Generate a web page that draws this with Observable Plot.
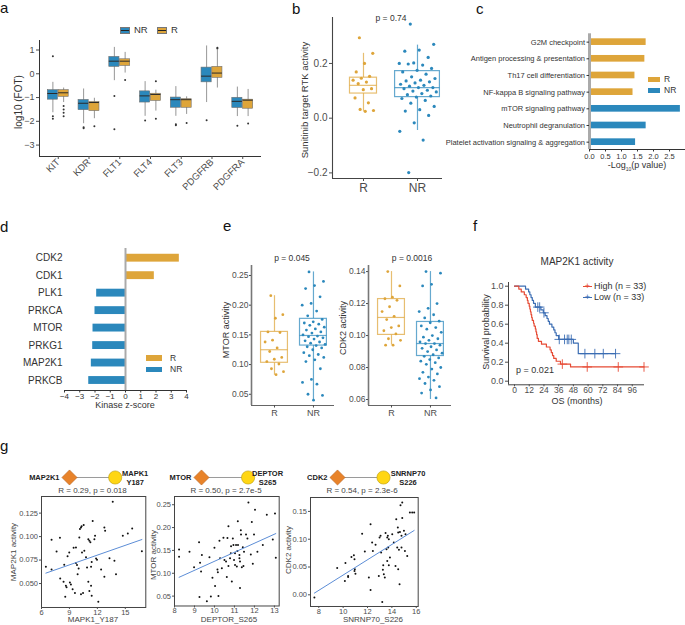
<!DOCTYPE html>
<html><head><meta charset="utf-8">
<script src="https://cdn.jsdelivr.net/npm/d3@7"></script>
<script src="https://cdn.jsdelivr.net/npm/@observablehq/plot@0.6"></script>
<style>
body{margin:0;background:#fff;}
#page{position:relative;width:685px;height:625px;overflow:hidden;background:#fff;font-family:"Liberation Sans",Arial,sans-serif;}
</style></head><body><div id="page"></div>
<script>
// ---------------- DATA ----------------
// panel a: [lo whisker, q1, median, q3, hi whisker] of log10(FOT)
const aGenes = ["KIT","KDR","FLT1","FLT4","FLT3","PDGFRB","PDGFRA"];
const aNRstats = [[-1.64,-1.09,-0.83,-0.69,-0.36],[-2.1,-1.53,-1.24,-1.1,-0.64],[-0.29,0.29,0.53,0.71,1.11],[-1.79,-1.21,-0.93,-0.74,-0.33],[-1.79,-1.43,-1.09,-1.0,-0.54],[-1.21,-0.36,-0.1,0.26,1.17],[-1.8,-1.44,-1.16,-1.01,-0.56]];
const aRstats = [[-1.21,-0.97,-0.8,-0.69,-0.6],[-1.89,-1.57,-1.21,-1.19,-1.03],[0.03,0.33,0.53,0.61,0.9],[-1.57,-1.14,-0.87,-0.84,-0.69],[-1.71,-1.43,-1.09,-1.07,-0.97],[-0.6,-0.17,0.03,0.29,1.0],[-1.8,-1.47,-1.11,-1.09,-0.66]];
const aNRout = [[0,-1.89],[0,-1.79],[0,0.74],[1,-2.29],[1,-2.25],[2,-0.93],[2,-2.33],[3,-1.97],[4,-2.17],[4,-2.12],[5,-1.96],[6,-2.19]];
const aRout = [[0,-1.36],[0,-1.5],[0,-1.64],[0,-1.79],[1,-2.21],[2,-0.26],[3,-0.31],[3,-1.89],[4,-2.07],[5,1.1],[5,1.06],[6,-2.09]];
// panel b: Sunitinib target RTK activity
const bGroups = ["R","NR"];
const bRstats = [0.025,0.09,0.12,0.148,0.237];
const bNRstats = [-0.045,0.077,0.112,0.172,0.267];
const bR = [0.294,0.237,0.2,0.169,0.153,0.146,0.139,0.132,0.126,0.108,0.104,0.074,0.056,0.032,0.028,0.025];
const bNR = [0.344,0.27,0.249,0.245,0.222,0.202,0.2,0.194,0.198,0.182,0.175,0.169,0.161,0.151,0.145,0.139,0.136,0.133,0.129,0.124,0.12,0.117,0.112,0.112,0.108,0.102,0.099,0.096,0.09,0.086,0.081,0.077,0.072,0.065,0.055,0.043,0.031,0.026,0.01,-0.017,-0.048,-0.08,-0.199];
// panel c: pathways
const cPath = ["G2M checkpoint","Antigen processing & presentation","Th17 cell differentiation","NF-kappa B signaling pathway","mTOR signaling pathway","Neutrophil degranulation","Platelet activation signaling & aggregation"];
const cVal = [1.77,1.73,1.42,1.36,2.84,1.77,1.44];
const cGrp = ["R","R","R","R","NR","NR","NR"];
// panel d: kinase z-scores
const dKin = ["CDK2","CDK1","PLK1","PRKCA","MTOR","PRKG1","MAP2K1","PRKCB"];
const dZ = [3.53,1.89,-1.89,-2.0,-2.13,-2.15,-2.24,-2.41];
// panel e: MTOR and CDK2 activity
const eMRstats = [0.082,0.103,0.125,0.155,0.216];
const eMNRstats = [0.04,0.132,0.149,0.177,0.256];
const eMR = [0.216,0.184,0.178,0.155,0.154,0.141,0.138,0.128,0.122,0.112,0.109,0.105,0.101,0.093,0.088,0.083];
const eMNR = [0.256,0.24,0.233,0.228,0.214,0.203,0.2,0.19,0.182,0.176,0.172,0.17,0.168,0.166,0.163,0.16,0.158,0.155,0.153,0.15,0.148,0.147,0.145,0.143,0.14,0.138,0.136,0.134,0.132,0.13,0.128,0.125,0.12,0.117,0.115,0.112,0.108,0.105,0.093,0.075,0.07,0.067,0.05,0.048,0.04];
const eCRstats = [0.094,0.1004,0.1113,0.1228,0.14];
const eCNRstats = [0.06,0.0872,0.095,0.1085,0.14];
const eCR = [0.14,0.131,0.124,0.123,0.122,0.118,0.115,0.112,0.11,0.106,0.105,0.103,0.101,0.098,0.097,0.094,0.094];
const eCNR = [0.14,0.139,0.132,0.131,0.12,0.117,0.115,0.113,0.111,0.109,0.108,0.106,0.105,0.104,0.102,0.1,0.099,0.098,0.097,0.096,0.095,0.095,0.094,0.093,0.092,0.091,0.09,0.089,0.088,0.087,0.086,0.085,0.084,0.083,0.082,0.08,0.079,0.077,0.076,0.074,0.073,0.072,0.07,0.068,0.066,0.064,0.061];
// panel f: Kaplan-Meier, MAP2K1 activity
const fHighT = [0,3.5,5.5,8,9.5,10.5,11,12,12.5,13,13.5,14,14.5,15.5,16,17,17.5,18,18.5,19.5,22,26,29,30,31,32,34,37.5,45.7,105.6];
const fHighS = [1,0.97,0.94,0.91,0.88,0.85,0.82,0.79,0.76,0.73,0.70,0.67,0.64,0.61,0.58,0.55,0.52,0.49,0.45,0.42,0.39,0.36,0.33,0.30,0.27,0.24,0.21,0.18,0.15,0.15];
const fHighCens = [[39,0.18],[59.3,0.15],[84.6,0.15],[105.6,0.15]];
const fLowT = [0,9,11.5,12.5,13.5,14.5,15.5,17,21.5,23.5,25,26.5,27.5,28.5,30.5,32,33,34,36,48,52,82.4];
const fLowS = [1,0.97,0.94,0.91,0.88,0.85,0.82,0.78,0.75,0.72,0.69,0.66,0.63,0.60,0.57,0.54,0.51,0.48,0.44,0.40,0.29,0.29];
const fLowCens = [[19,0.78],[20.5,0.78],[24,0.72],[36.5,0.44],[40.8,0.44],[43,0.44],[44.3,0.44],[46.3,0.44],[57.4,0.29],[65.5,0.29],[72.4,0.29],[82.4,0.29]];
// panel g: kinase activity vs substrate phosphosite
const g1Pts = [[6.47,0.068],[7.08,0.065],[7.08,0.0966],[7.62,0.084],[7.98,0.0988],[8.01,0.0555],[8.37,0.052],[8.44,0.07],[8.62,0.0477],[8.69,0.046],[8.55,0.036],[8.8,0.079],[8.98,0.083],[9.05,0.051],[9.16,0.049],[9.34,0.044],[9.45,0.088],[9.7,0.0885],[9.7,0.072],[9.81,0.0697],[9.59,0.04],[9.88,0.06],[9.99,0.066],[10.06,0.099],[10.13,0.108],[10.24,0.1098],[10.31,0.111],[10.53,0.1123],[10.35,0.083],[10.24,0.0385],[10.46,0.04],[10.6,0.085],[10.78,0.078],[10.89,0.067],[11.03,0.0973],[11.14,0.0956],[11.03,0.052],[11.25,0.094],[11.14,0.042],[11.32,0.0477],[11.39,0.037],[11.32,0.068],[11.39,0.073],[11.5,0.1165],[11.68,0.0973],[11.75,0.101],[11.86,0.0768],[11.96,0.0754],[12.1,0.0307],[12.4,0.065],[12.75,0.0573],[12.75,0.1098],[12.83,0.1062],[13.3,0.077],[13.65,0.137],[13.83,0.0743],[14.0,0.0598],[14.73,0.101],[15.27,0.1034],[15.74,0.1087],[16.78,0.0843]];
const g2Pts = [[8.23,0.152],[8.23,0.136],[8.75,0.147],[8.98,0.113],[9.23,0.168],[9.28,0.123],[9.37,0.14],[9.33,0.104],[9.25,0.048],[9.62,0.039],[9.75,0.135],[9.82,0.049],[9.9,0.09],[10.0,0.156],[10.03,0.072],[10.15,0.108],[10.17,0.102],[10.2,0.05],[10.25,0.171],[10.28,0.133],[10.37,0.111],[10.45,0.178],[10.5,0.129],[10.58,0.126],[10.62,0.092],[10.65,0.177],[10.7,0.203],[10.7,0.116],[10.78,0.133],[10.82,0.144],[10.83,0.159],[10.87,0.082],[10.92,0.176],[10.95,0.162],[10.98,0.129],[11.03,0.144],[11.03,0.118],[11.08,0.162],[11.12,0.115],[11.15,0.149],[11.17,0.214],[11.18,0.162],[11.25,0.14],[11.25,0.133],[11.28,0.126],[11.28,0.068],[11.32,0.194],[11.33,0.185],[11.37,0.113],[11.42,0.157],[11.45,0.116],[11.48,0.147],[11.58,0.185],[11.65,0.176],[11.7,0.255],[11.82,0.141],[11.87,0.212],[11.92,0.121],[11.98,0.185],[12.03,0.239],[12.15,0.147],[12.42,0.162],[12.62,0.228],[12.92,0.174],[13.03,0.231],[13.07,0.134]];
const g3Pts = [[7.64,-0.005],[9.51,0.048],[10.19,0.057],[10.41,0.034],[10.68,0.068],[10.88,0.071],[10.93,0.064],[10.96,0.046],[10.93,0.043],[11.01,0.038],[10.14,0.025],[10.41,0.032],[11.56,0.11],[11.78,0.078],[12.11,0.031],[12.25,0.127],[12.25,0.0085],[12.38,0.094],[12.44,0.079],[12.66,0.09],[12.93,0.034],[13.07,0.106],[12.99,0.103],[13.12,0.076],[13.21,-0.013],[13.29,0.053],[13.26,0.045],[13.34,0.037],[13.42,0.031],[13.48,0.111],[13.62,0.103],[13.67,0.106],[13.75,0.1],[13.56,0.082],[13.7,0.085],[13.62,0.061],[13.75,0.053],[13.84,0.067],[14.03,0.109],[14.16,0.094],[14.3,0.052],[14.36,0.136],[14.44,0.085],[14.49,0.121],[14.52,0.112],[14.52,0.046],[14.58,0.081],[14.63,0.019],[14.66,0.113],[14.71,0.161],[14.79,0.106],[14.85,0.166],[14.79,0.085],[14.85,0.138],[14.99,0.115],[15.07,0.079],[15.12,0.109],[15.26,0.07],[15.48,0.148],[15.67,0.148],[15.83,0.148]];
const gKinase = ["MAP2K1","MTOR","CDK2"];
const gSubstrate = ["MAPK1\nY187","DEPTOR\nS265","SNRNP70\nS226"];
const gXLabel = ["MAPK1_Y187","DEPTOR_S265","SNRNP70_S226"];
const gYLabel = ["MAP2K1 activity","MTOR activity","CDK2 activity"];
const gStat = ["R = 0.29, p = 0.018","R = 0.50, p = 2.7e-5","R = 0.54, p = 2.3e-6"];

// ---------------- HELPERS ----------------
const BLUE="#2B88BC", GOLD="#DEA53A", RED="#E64B35", KMBLUE="#3B6DB3";
const FONT='"Liberation Sans", Arial, Helvetica, sans-serif';
const page=document.getElementById("page");
const col = g => g==="NR"?BLUE:GOLD;
function st(fs,color="#4d4d4d"){return {fontFamily:FONT,fontSize:fs+"px",color,background:"transparent",overflow:"visible"};}
function fr(L,T,W,H,x1,x2,y1,y2){return {width:W,height:H,marginLeft:x1-L,marginRight:L+W-x2,marginTop:y1-T,marginBottom:T+H-y2};}
function put(svg,L,T){svg.style.position="absolute";svg.style.left=L+"px";svg.style.top=T+"px";svg.style.maxWidth="none";page.appendChild(svg);return svg;}
function txt(x,base,s,o={}){const size=o.size||9;const d=document.createElement("div");
  d.style.cssText=`position:absolute;left:${x}px;top:${base-0.85*size}px;font-size:${size}px;line-height:1;white-space:nowrap;color:${o.color||"#333"};font-weight:${o.weight||"normal"};`;
  const a=o.anchor||"start";d.style.transform=`translateX(${a==="middle"?"-50%":a==="end"?"-100%":"0"})`;d.innerHTML=s;page.appendChild(d);return d;}
function vtxt(x,y,s,o={}){const size=o.size||9;const d=document.createElement("div");
  d.style.cssText=`position:absolute;left:${x}px;top:${y}px;font-size:${size}px;line-height:1;white-space:nowrap;color:${o.color||"#333"};transform:translate(-50%,-50%) rotate(-90deg);`;
  d.innerHTML=s;page.appendChild(d);}
function key(x,y,w,h,fill,o={}){const d=document.createElement("div");
  d.style.cssText=`position:absolute;left:${x}px;top:${y}px;width:${w}px;height:${h}px;background:${fill};box-sizing:border-box;${o.border?"border:0.7px solid "+o.border+";":""}`;
  page.appendChild(d);
  if(o.mid){const m=document.createElement("div");m.style.cssText=`position:absolute;left:0;right:0;top:50%;margin-top:-0.5px;height:1px;background:${o.mid};`;d.appendChild(m);}
  return d;}
const jit = i => (((i*0.618034)+0.31)%1)-0.5;   // deterministic horizontal spread of points
function boxMarks(rows, sw=1.2){
  const o={stroke:"c",strokeWidth:sw,strokeOpacity:0.72};
  return [
    Plot.ruleX(rows,{x:"x",y1:d=>d.s[0],y2:d=>d.s[1],...o}),
    Plot.ruleX(rows,{x:"x",y1:d=>d.s[3],y2:d=>d.s[4],...o}),
    Plot.rect(rows,{x1:d=>d.x-d.hw,x2:d=>d.x+d.hw,y1:d=>d.s[1],y2:d=>d.s[3],fill:"white",...o}),
    Plot.ruleY(rows,{y:d=>d.s[2],x1:d=>d.x-d.hw,x2:d=>d.x+d.hw,...o})
  ];
}
function ptsRows(vals,x,c,spread){return vals.map((v,i)=>({x:x+jit(i)*spread,v,c}));}

// ---------------- PANEL LETTERS ----------------
[["a",0,13],["b",292,13.5],["c",476,13.5],["d",0,231.5],["e",223,231],["f",473,231],["g",0,451]].forEach(([s,x,y])=>txt(x,y,s,{size:15,color:"#111"}));

// ---------------- PANEL a ----------------
{
  const rows = aGenes.flatMap((g,i)=>[{x:i-0.175,s:aNRstats[i],c:BLUE},{x:i+0.175,s:aRstats[i],c:GOLD}]);
  const outs = [...aNRout.map(([i,v])=>({x:i-0.175,v})),...aRout.map(([i,v])=>({x:i+0.175,v}))];
  const svg = Plot.plot({
    ...fr(0,20,265,185,39,261,40,156), style:st(9),
    x:{domain:[-0.61,6.61]}, y:{domain:[-3.48,1.4]},
    marks:[
      Plot.ruleX(rows,{x:"x",y1:d=>d.s[0],y2:d=>d.s[4],stroke:"#8a8a8a",strokeWidth:0.9}),
      Plot.rect(rows,{x1:d=>d.x-0.165,x2:d=>d.x+0.165,y1:d=>d.s[1],y2:d=>d.s[3],fill:"c",stroke:"#707070",strokeWidth:0.6}),
      Plot.ruleY(rows,{y:d=>d.s[2],x1:d=>d.x-0.165,x2:d=>d.x+0.165,stroke:"#2a2a2a",strokeWidth:1}),
      Plot.dot(outs,{x:"x",y:"v",r:1,fill:"#333"}),
      Plot.ruleX([-0.61],{stroke:"#333"}),
      Plot.ruleY([-3.48],{stroke:"#333"}),
      Plot.axisY({ticks:[-3,-2,-1,0,1],tickFormat:"d",tickSize:3,tickPadding:2,label:null}),
      Plot.axisX({ticks:d3.range(7),tickFormat:i=>aGenes[i],tickRotate:-45,tickSize:3,tickPadding:1,label:null,fontSize:9.5})
    ]});
  put(svg,0,20);
  vtxt(18.5,102,"log10 (FOT)",{size:10});
  key(120,27,10,7,BLUE,{border:"#777",mid:"#222"}); txt(134,33,"NR",{size:9.5});
  key(157,27,10,7,GOLD,{border:"#777",mid:"#222"}); txt(171,33,"R",{size:9.5});
}

// ---------------- PANEL b ----------------
{
  const rows=[{x:1,s:bRstats,c:GOLD,hw:0.25},{x:2,s:bNRstats,c:BLUE,hw:0.415}];
  const pts=[...ptsRows(bR,1,GOLD,0.4),...ptsRows(bNR,2,BLUE,0.7)];
  const svg=Plot.plot({
    ...fr(300,5,150,195,332,442,17,178), style:st(10),
    x:{domain:[0.426,2.463]}, y:{domain:[-0.2205,0.368]},
    marks:[
      ...boxMarks(rows),
      Plot.dot(pts,{x:"x",y:"v",r:1.6,fill:"c"}),
      Plot.ruleX([0.426],{stroke:"#444",strokeWidth:1.1}),
      Plot.ruleY([-0.2205],{stroke:"#444",strokeWidth:1.1}),
      Plot.axisY({ticks:[-0.2,0,0.2],tickFormat:".1f",tickSize:3,tickPadding:2,label:null}),
      Plot.axisX({ticks:[1,2],tickFormat:i=>bGroups[i-1],tickSize:3,tickPadding:2,label:null,fontSize:12})
    ]});
  put(svg,300,5);
  vtxt(305,100,"Sunitinib target RTK activity",{size:9.5});
  txt(391,21,"p = 0.74",{size:8.5,anchor:"middle"});
}

// ---------------- PANEL c ----------------
{
  const rows=cPath.map((p,i)=>({i,v:cVal[i],c:col(cGrp[i])}));
  const svg=Plot.plot({
    ...fr(440,20,245,165,589,685,33.3,149), style:st(7.5,"#333"),
    x:{domain:[0,3]}, y:{domain:[6.44,-0.5]},
    marks:[
      Plot.rect(rows,{x1:()=>0,x2:"v",y1:d=>d.i-0.2,y2:d=>d.i+0.2,fill:"c"}),
      Plot.ruleX([0],{stroke:"#aaa",strokeWidth:3}),
      Plot.ruleY([6.44],{stroke:"#333"}),
      Plot.axisY({ticks:d3.range(7),tickFormat:i=>cPath[i],tickSize:2.5,tickPadding:2,label:null}),
      Plot.axisX({ticks:[0,0.5,1,1.5,2,2.5],tickFormat:".1f",tickSize:2.5,tickPadding:1.5,label:null})
    ]});
  put(svg,440,20);
  txt(637,168.5,"-Log<sub style='font-size:5px'>10</sub>(p value)",{size:9,anchor:"middle"});
  key(648,77,12,5,GOLD); txt(664,82.5,"R",{size:8.5});
  key(648,88,12,5,BLUE); txt(664,93.5,"NR",{size:8.5});
}

// ---------------- PANEL d ----------------
{
  const rows=dKin.map((k,i)=>({i,v:dZ[i],c:dZ[i]>0?GOLD:BLUE}));
  const svg=Plot.plot({
    ...fr(0,235,220,180,64,186,248,390), style:st(8,"#333"),
    x:{domain:[-4,4]}, y:{domain:[7.572,-0.555]},
    marks:[
      Plot.rect(rows,{x1:()=>0,x2:"v",y1:d=>d.i-0.225,y2:d=>d.i+0.225,fill:"c"}),
      Plot.ruleX([0],{stroke:"#aaa",strokeWidth:2}),
      Plot.ruleY([7.572],{stroke:"#333"}),
      Plot.axisY({ticks:d3.range(8),tickFormat:i=>dKin[i],tickSize:0,tickPadding:2,label:null,fontSize:10}),
      Plot.axisX({ticks:d3.range(-4,5),tickSize:2.5,tickPadding:0,label:null})
    ]});
  put(svg,0,235);
  txt(125,408.5,"Kinase z-score",{size:9,anchor:"middle"});
  key(146,355,16,5.5,GOLD); txt(170,361,"R",{size:8.5});
  key(146,366.5,16,5.5,BLUE); txt(170,372.5,"NR",{size:8.5});
}

// ---------------- PANEL e ----------------
function ePlot(L,x1,x2,yDom,ticks,Rs,NRs,Rv,NRv){
  const rows=[{x:1,s:Rs,c:GOLD,hw:0.345},{x:2,s:NRs,c:BLUE,hw:0.345}];
  const pts=[...ptsRows(Rv,1,GOLD,0.5),...ptsRows(NRv,2,BLUE,0.6)];
  return put(Plot.plot({
    ...fr(L,250,x2-L+10,175,x1,x2,265,405), style:st(8.5),
    x:{domain:[0.41,2.54]}, y:{domain:yDom},
    marks:[
      ...boxMarks(rows),
      Plot.dot(pts,{x:"x",y:"v",r:1.4,fill:"c"}),
      Plot.ruleX([0.41],{stroke:"#777",strokeWidth:1.6}),
      Plot.ruleY([yDom[0]],{stroke:"#666",strokeWidth:1.1}),
      Plot.axisY({ticks,tickFormat:".2f",tickSize:2,tickPadding:1,label:null}),
      Plot.axisX({ticks:[1,2],tickFormat:i=>bGroups[i-1],tickSize:2.5,tickPadding:1.5,label:null,fontSize:9})
    ]}),L,250);
}
ePlot(225,251,334,[0.0311,0.2668],[0.05,0.1,0.15,0.2,0.25],eMRstats,eMNRstats,eMR,eMNR);
ePlot(340,368,451,[0.05625,0.1438],[0.06,0.08,0.1,0.12,0.14],eCRstats,eCNRstats,eCR,eCNR);
vtxt(225.5,330,"MTOR activity",{size:9});
vtxt(342.5,328,"CDK2 activity",{size:9});
txt(292,261.5,"p = 0.045",{size:8.5,anchor:"middle"});
txt(412,261.5,"p = 0.0016",{size:8.5,anchor:"middle"});

// ---------------- PANEL f ----------------
{
  const hi=fHighT.map((t,i)=>({t,s:fHighS[i]}));
  const lo=fLowT.map((t,i)=>({t,s:fLowS[i]}));
  const svg=Plot.plot({
    ...fr(470,250,215,160,508,644,282,384.3), style:st(8.5),
    x:{domain:[-4.9,106]}, y:{domain:[-0.038,1.039]},
    marks:[
      Plot.line(lo,{x:"t",y:"s",curve:"step-after",stroke:KMBLUE,strokeWidth:1.2}),
      Plot.line(hi,{x:"t",y:"s",curve:"step-after",stroke:RED,strokeWidth:1.2}),
      Plot.dot(fLowCens,{x:d=>d[0],y:d=>d[1],symbol:"plus",r:3.2,stroke:KMBLUE,strokeWidth:0.9}),
      Plot.dot(fHighCens,{x:d=>d[0],y:d=>d[1],symbol:"plus",r:3.2,stroke:RED,strokeWidth:0.9}),
      Plot.ruleX([-4.9],{stroke:"#444"}),
      Plot.ruleY([-0.038],{stroke:"#444"}),
      Plot.axisY({ticks:[0,0.2,0.4,0.6,0.8,1],tickFormat:".1f",tickSize:3,tickPadding:2,label:null,fontSize:9}),
      Plot.axisX({ticks:d3.range(0,97,12),tickSize:2,tickPadding:0.5,label:null})
    ]});
  put(svg,470,250);
  txt(577,265.5,"MAP2K1 activity",{size:10,anchor:"middle"});
  vtxt(486,332,"Survival probability",{size:9});
  txt(577,404.5,"OS (months)",{size:9,anchor:"middle"});
  txt(535,373.5,"p = 0.021",{size:9,anchor:"middle"});
  key(583,285.5,9,1.1,RED); txt(587.5,289.5,"+",{size:9,anchor:"middle",color:RED});
  key(583,296.5,9,1.1,KMBLUE); txt(587.5,300.5,"+",{size:9,anchor:"middle",color:KMBLUE});
  txt(594,289.5,"High (n = 33)",{size:9});
  txt(594,300.5,"Low (n = 33)",{size:9});
}

// ---------------- PANEL g ----------------
function gPlot(k,pts,fx1,fx2,fy1,fy2,xDom,yDom,xt,yt,yfmt){
  const L=fx1-35, T=fy1-5;
  return put(Plot.plot({
    ...fr(L,T,fx2-L+5,fy2-T+25,fx1,fx2,fy1,fy2), style:st(7.5),
    x:{domain:xDom}, y:{domain:yDom},
    marks:[
      Plot.dot(pts,{x:d=>d[0],y:d=>d[1],r:1,fill:"#111"}),
      Plot.linearRegressionY(pts,{x:d=>d[0],y:d=>d[1],stroke:"#5B8DD6",strokeWidth:1,ci:0}),
      Plot.frame({stroke:"#444",strokeWidth:1}),
      Plot.axisY({ticks:yt,tickFormat:yfmt,tickSize:2,tickPadding:1.5,label:null}),
      Plot.axisX({ticks:xt,tickFormat:"d",tickSize:2,tickPadding:0,label:null})
    ]}),L,T);
}
gPlot(0,g1Pts,40.7,145,495.7,606.7,[6,17.2],[0.0245,0.1427],[6,9,12,15],[0.05,0.075,0.1,0.125],".3f");
gPlot(1,g2Pts,174.3,279,496,605.5,[8,13.24],[0.0284,0.268],[8,9,10,11,12,13],[0.05,0.1,0.15,0.2,0.25],".2f");
gPlot(2,g3Pts,310,417.7,496.7,605.7,[7.32,16.16],[-0.021,0.175],[8,10,12,14,16],[0,0.05,0.1,0.15],".2f");
// kinase -> substrate glyphs
function glyph(k,dx,cx,subDx){
  const L=dx-45, R=cx+45;
  const svg=Plot.plot({
    ...fr(L,462,R-L,30,dx,cx,467,487), style:st(7.5,"#222"),
    x:{domain:[0,1],axis:null}, y:{domain:[0,1],axis:null},
    marks:[
      Plot.link([0],{x1:()=>0,x2:()=>1,y1:()=>0.5,y2:()=>0.5,stroke:"#9a9a9a",strokeWidth:1}),
      Plot.dot([gKinase[k]],{x:()=>0,y:()=>0.5,symbol:"diamond2",r:6.8,fill:"#E8832A",stroke:"#B9621C",strokeWidth:0.6}),
      Plot.dot([gSubstrate[k]],{x:()=>1,y:()=>0.5,symbol:"circle",r:6.6,fill:"#FFD614",stroke:"#B89A10",strokeWidth:0.6}),
      Plot.text([gKinase[k]],{x:()=>0,y:()=>0.5,text:d=>d,textAnchor:"end",dx:-10,fontWeight:"bold",fontSize:7.5}),
      Plot.text([gSubstrate[k]],{x:()=>1,y:()=>0.5,text:d=>d,textAnchor:"middle",dx:subDx,lineHeight:1.2,fontWeight:"bold",fontSize:7.5})
    ]});
  put(svg,L,462);
}
glyph(0,69.3,115,20);
glyph(1,200.7,247.3,19.5);
glyph(2,337.3,383.3,24.5);
[[92.5,0],[226,1],[362,2]].forEach(([x,k])=>txt(x,493.5,gStat[k],{size:8,anchor:"middle",color:"#444"}));
[[93,0],[229,1],[373,2]].forEach(([x,k])=>txt(x,623,gXLabel[k],{size:8,anchor:"middle",color:"#444"}));
vtxt(14,552,gYLabel[0],{size:8,color:"#444"});
vtxt(154,555,gYLabel[1],{size:8,color:"#444"});
vtxt(289,550,gYLabel[2],{size:8,color:"#444"});
</script></body></html>
